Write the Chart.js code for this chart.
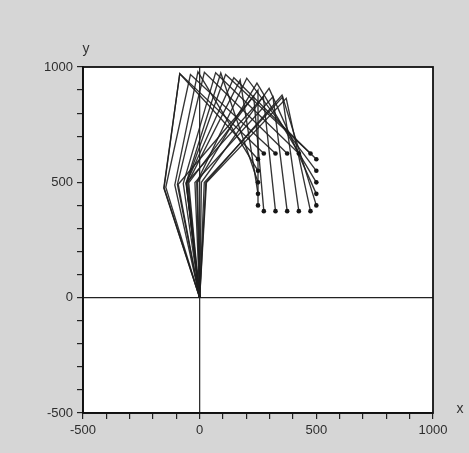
<!DOCTYPE html>
<html>
<head>
<meta charset="utf-8">
<script src="https://cdn.jsdelivr.net/npm/chart.js@4/dist/chart.umd.min.js"></script>
<style>
  html, body { margin: 0; padding: 0; background: #d6d6d6; }
  canvas { display: block; }
</style>
</head>
<body>
<canvas id="c" width="469" height="453"></canvas>
<script>
// End-effector targets (dots)
const tx = [475, 425, 375, 325, 275, 250, 250, 250, 250, 250, 275, 325, 375, 425, 475, 500, 500, 500, 500, 500];
const ty = [625, 625, 625, 625, 625, 600, 550, 500, 450, 400, 375, 375, 375, 375, 375, 400, 450, 500, 550, 600];
// First joint (elbow) positions
const p1x = [-56.3, -70.3, -95.4, -145.2, -152.5, -153.8, -106.6, -58.4, -51.1, -47, -91.8, -57.5, -20.3, 19.7, 29.1, 26.4, 7.4, -8.9, -12.7, -56.8];
const p1y = [496.8, 495, 490.8, 478.5, 476.2, 475.7, 488.5, 496.6, 497.4, 497.8, 491.5, 496.7, 499.6, 499.5, 499.2, 499.3, 500, 499.9, 499.8, 496.7];
// Second joint positions
const p2x = [111.1, 68.4, 20.2, -39.5, -85.3, -85.2, -7.5, 90.5, 173.5, 250, 231.4, 272.7, 314.1, 355.4, 371, 353, 297.5, 245.5, 201.9, 146.4];
const p2y = [967.9, 975.4, 977.3, 967.2, 971.7, 971, 978.6, 973.9, 944.1, 900, 873.1, 872.2, 871.3, 870.1, 864, 877.9, 907.2, 930.4, 951.4, 953.6];
// Base of the arm
const baseX = 0, baseY = 0;
// Axis range and labels
const axisMin = -500, axisMax = 1000, minorStep = 100, labelStep = 500;

const datasets = tx.map((_, i) => ({
  data: [
    { x: baseX, y: baseY },
    { x: p1x[i], y: p1y[i] },
    { x: p2x[i], y: p2y[i] },
    { x: tx[i], y: ty[i] }
  ],
  showLine: true,
  borderColor: 'rgba(30,30,30,0.9)',
  borderWidth: 1.35,
  pointRadius: [0, 0, 0, 2.3],
  pointBorderWidth: 0,
  pointBackgroundColor: '#151515',
  tension: 0
}));

const frame = {
  id: 'frame',
  beforeDraw(chart) {
    const { ctx, chartArea: a } = chart;
    ctx.save();
    ctx.fillStyle = '#ffffff';
    ctx.fillRect(a.left, a.top, a.right - a.left, a.bottom - a.top);
    ctx.restore();
  },
  beforeDatasetsDraw(chart) {
    const { ctx, chartArea: a, scales } = chart;
    const x0 = scales.x.getPixelForValue(0);
    const y0 = scales.y.getPixelForValue(0);
    ctx.save();
    ctx.strokeStyle = '#222';
    ctx.lineWidth = 1.2;
    ctx.beginPath();
    ctx.moveTo(a.left, y0); ctx.lineTo(a.right, y0);
    ctx.moveTo(x0, a.top); ctx.lineTo(x0, a.bottom);
    ctx.stroke();
    ctx.restore();
  },
  afterDraw(chart) {
    const { ctx, chartArea: a } = chart;
    ctx.save();
    ctx.strokeStyle = '#111';
    ctx.lineWidth = 1.8;
    ctx.strokeRect(a.left, a.top, a.right - a.left, a.bottom - a.top);
    ctx.fillStyle = '#333';
    ctx.font = '14px "Liberation Sans", Arial, sans-serif';
    ctx.textAlign = 'center';
    ctx.textBaseline = 'middle';
    ctx.fillText('y', a.left + 3, a.top - 18);
    ctx.fillText('x', a.right + 27, a.bottom - 4);
    ctx.restore();
  }
};

const tickFont = { size: 13, family: '"Liberation Sans", Arial, sans-serif' };
function axisScale(fitFn) {
  return {
    type: 'linear',
    min: axisMin,
    max: axisMax,
    afterBuildTicks(scale) {
      const t = [];
      for (let v = axisMin; v <= axisMax; v += minorStep) t.push({ value: v });
      scale.ticks = t;
    },
    ticks: {
      autoSkip: false,
      maxRotation: 0,
      color: '#2e2e2e',
      font: tickFont,
      padding: 4,
      callback: v => (v % labelStep === 0 ? String(v) : '')
    },
    grid: {
      display: true,
      drawOnChartArea: false,
      drawTicks: true,
      tickLength: 6,
      color: '#222',
      lineWidth: 1.2
    },
    border: { display: true, color: '#111', width: 1.8 },
    afterFit: fitFn
  };
}

new Chart(document.getElementById('c'), {
  type: 'scatter',
  data: { datasets },
  options: {
    responsive: false,
    animation: false,
    layout: { padding: { top: 67, right: 36, left: 0, bottom: 0 } },
    plugins: { legend: { display: false }, tooltip: { enabled: false } },
    scales: {
      x: axisScale(s => { s.height = 40; }),
      y: axisScale(s => { s.width = 83; })
    }
  },
  plugins: [frame]
});
</script>
</body>
</html>
